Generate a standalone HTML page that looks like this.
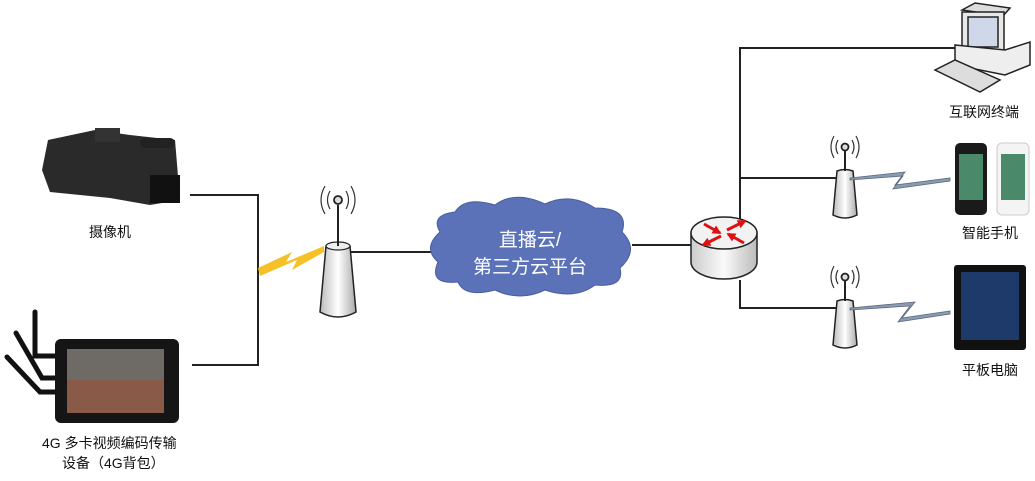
<!DOCTYPE html>
<html><head><meta charset="utf-8"><style>
body{margin:0;background:#fff;width:1035px;height:476px;overflow:hidden}
text{font-family:"Liberation Sans","Noto Sans CJK SC",sans-serif}
</style></head><body>
<svg width="1035" height="476" viewBox="0 0 1035 476" xmlns="http://www.w3.org/2000/svg">
<defs>
<linearGradient id="tw" x1="0" x2="1"><stop offset="0" stop-color="#bbb"/><stop offset=".5" stop-color="#fff"/><stop offset="1" stop-color="#aaa"/></linearGradient>
<linearGradient id="rt" x1="0" x2="1"><stop offset="0" stop-color="#ccc"/><stop offset=".5" stop-color="#fafafa"/><stop offset="1" stop-color="#bbb"/></linearGradient>
<marker id="ah" viewBox="0 0 10 10" refX="8" refY="5" markerWidth="3" markerHeight="3" orient="auto"><path d="M0,0 L10,5 L0,10 Z" fill="#d11"/></marker>
</defs>
<g stroke="#222" stroke-width="2" fill="none">
<polyline points="190,195 258,195 258,365 192,365"/>
<line x1="350" y1="252" x2="432" y2="252"/>
<line x1="632" y1="245" x2="692" y2="245"/>
<polyline points="740,222 740,48 962,48"/>
<line x1="740" y1="178" x2="845" y2="178"/>
<polyline points="740,280 740,308 845,308"/>
</g>
<polygon points="258,268 292,252 286,262 324,246 324,252 292,270 297,260 260,276" fill="#f5c127"/>
<g>
<path d="M326,246 Q338,240 350,246 L356,312 Q338,322 320,312 Z" fill="url(#tw)" stroke="#222" stroke-width="1.5"/>
<ellipse cx="338" cy="246" rx="12" ry="4" fill="#eee" stroke="#222" stroke-width="1.2"/>
<line x1="338" y1="205" x2="338" y2="246" stroke="#222" stroke-width="2"/>
<circle cx="338" cy="200" r="4" fill="#ddd" stroke="#222" stroke-width="1.8"/>
<g fill="none" stroke="#333" stroke-width="1.2">
<path d="M330,191 Q325,200 330,209"/><path d="M325,186 Q317,200 325,214"/>
<path d="M346,191 Q351,200 346,209"/><path d="M351,186 Q359,200 351,214"/>
</g>
</g>
<g transform="translate(507,-53)">
<path d="M330,224 Q338,221 346,224 L350,268 Q338,274 326,268 Z" fill="url(#tw)" stroke="#222" stroke-width="1.5"/>
<line x1="338" y1="204" x2="338" y2="224" stroke="#222" stroke-width="2"/>
<circle cx="338" cy="200" r="3.5" fill="#ddd" stroke="#222" stroke-width="1.8"/>
<g fill="none" stroke="#333" stroke-width="1.2">
<path d="M331,193 Q327,200 331,207"/><path d="M327,189 Q321,200 327,211"/>
<path d="M345,193 Q349,200 345,207"/><path d="M349,189 Q355,200 349,211"/>
</g>
</g>
<g transform="translate(507,77)">
<path d="M330,224 Q338,221 346,224 L350,268 Q338,274 326,268 Z" fill="url(#tw)" stroke="#222" stroke-width="1.5"/>
<line x1="338" y1="204" x2="338" y2="224" stroke="#222" stroke-width="2"/>
<circle cx="338" cy="200" r="3.5" fill="#ddd" stroke="#222" stroke-width="1.8"/>
<g fill="none" stroke="#333" stroke-width="1.2">
<path d="M331,193 Q327,200 331,207"/><path d="M327,189 Q321,200 327,211"/>
<path d="M345,193 Q349,200 345,207"/><path d="M349,189 Q355,200 349,211"/>
</g>
</g>
<polygon points="850,178 905,172 895,185 950,178 950,181 893,189 903,176 850,180" fill="#8a9bb0" stroke="#5a6a80" stroke-width="0.8"/>
<polygon points="850,308 915,302 902,318 950,311 950,314 898,322 910,306 850,310" fill="#8a9bb0" stroke="#5a6a80" stroke-width="0.8"/>
<path d="M440,232 Q430,215 455,212 Q465,196 495,205 Q515,190 545,204 Q570,192 595,208 Q630,208 622,232 Q640,250 620,268 Q625,288 595,285 Q575,300 545,290 Q520,302 495,290 Q465,298 458,282 Q428,285 438,262 Q422,248 440,232 Z" fill="#5b72b8" stroke="#4a5e9e" stroke-width="1"/>
<text x="530" y="246" font-size="19" fill="#fff" text-anchor="middle">直播云/</text>
<text x="530" y="273" font-size="19" fill="#fff" text-anchor="middle">第三方云平台</text>
<path d="M691,233 L691,262 A33,17 0 0 0 757,262 L757,233 Z" fill="url(#rt)" stroke="#222" stroke-width="1.5"/>
<ellipse cx="724" cy="233" rx="33" ry="16" fill="#f2f2f2" stroke="#222" stroke-width="1.5"/>
<g stroke="#d11" stroke-width="3" fill="none">
<line x1="704" y1="224" x2="720" y2="233" marker-end="url(#ah)"/><line x1="744" y1="243" x2="728" y2="234" marker-end="url(#ah)"/>
<line x1="721" y1="236" x2="703" y2="245" marker-end="url(#ah)"/><line x1="727" y1="230" x2="745" y2="221" marker-end="url(#ah)"/>
</g>
<g stroke="#222" stroke-width="1.5">
<path d="M962,10 L975,3 L1010,8 L1003,16 Z" fill="#ddd"/>
<rect x="962" y="12" width="42" height="42" fill="#e8e8e8"/>
<rect x="968" y="17" width="30" height="30" fill="#cfd8e8"/>
<path d="M955,45 L1005,50 L1030,42 L1030,65 L1005,75 L955,65 Z" fill="#eee"/>
<path d="M935,70 L955,60 L1000,80 L980,92 Z" fill="#ddd"/>
</g>
<rect x="955" y="143" width="32" height="72" rx="5" fill="#1a1a1a"/>
<rect x="959" y="154" width="24" height="46" fill="#4a8a6a"/>
<rect x="997" y="143" width="32" height="72" rx="5" fill="#f4f4f4" stroke="#ccc"/>
<rect x="1001" y="154" width="24" height="46" fill="#4a8a6a"/>
<rect x="954" y="265" width="72" height="85" rx="3" fill="#111"/>
<rect x="961" y="272" width="58" height="68" fill="#1e3a6a"/>
<path d="M48,140 L95,130 L130,135 L175,140 L180,200 L150,205 L110,198 L50,192 L42,170 Z" fill="#2a2a2a"/>
<rect x="95" y="128" width="25" height="14" fill="#333"/>
<rect x="140" y="138" width="35" height="10" rx="5" fill="#222"/>
<rect x="150" y="175" width="30" height="28" fill="#111"/>
<g stroke="#111" stroke-width="5" stroke-linecap="round" fill="none">
<polyline points="35,312 35,356 55,356"/><polyline points="16,333 42,378 55,378"/><polyline points="7,357 40,392 55,392"/>
</g>
<rect x="55" y="339" width="124" height="84" rx="6" fill="#151515"/>
<rect x="67" y="349" width="97" height="64" fill="#6e6a66"/>
<rect x="67" y="380" width="97" height="33" fill="#8a5a48"/>
<g font-size="14" fill="#111">
<text x="110" y="237" text-anchor="middle">摄像机</text>
<text x="984" y="117" text-anchor="middle">互联网终端</text>
<text x="990" y="238" text-anchor="middle">智能手机</text>
<text x="990" y="375" text-anchor="middle">平板电脑</text>
<text x="42" y="448">4G 多卡视频编码传输</text>
<text x="62" y="468">设备（4G背包）</text>
</g>
</svg>
</body></html>
